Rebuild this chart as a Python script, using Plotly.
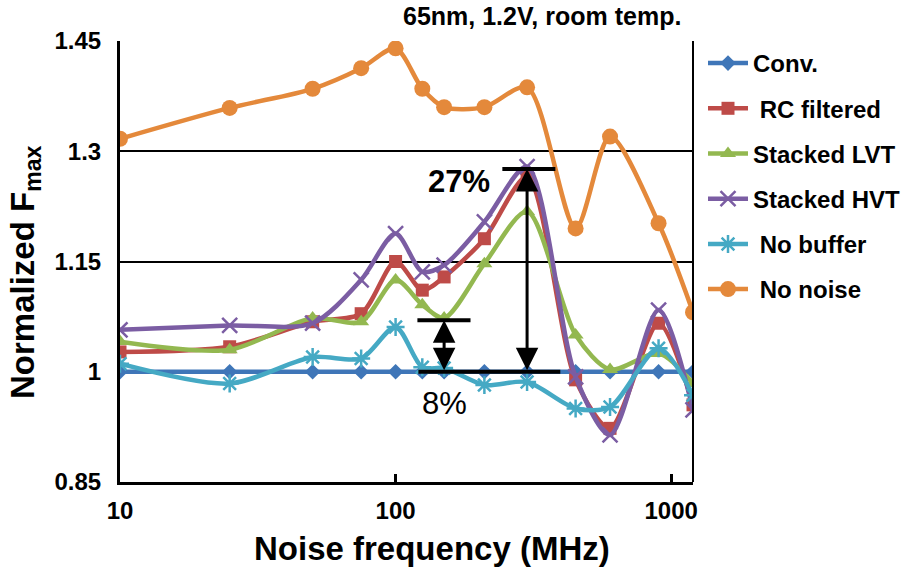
import numpy as np
import plotly.graph_objects as go

freq = [10, 25, 50, 75, 100, 125, 150, 210, 300, 450, 600, 900, 1200]
conv = [1.0] * 13
rc_filtered = [1.027, 1.034, 1.068, 1.079, 1.150, 1.111, 1.129, 1.181, 1.265, 0.989, 0.923, 1.066, 0.955]
stacked_lvt = [1.041, 1.030, 1.073, 1.068, 1.125, 1.091, 1.073, 1.147, 1.218, 1.050, 1.003, 1.025, 0.984]
stacked_hvt = [1.057, 1.063, 1.066, 1.125, 1.188, 1.136, 1.145, 1.204, 1.279, 0.993, 0.914, 1.084, 0.948]
no_buffer = [1.011, 0.984, 1.020, 1.018, 1.061, 1.006, 1.005, 0.982, 0.986, 0.950, 0.952, 1.032, 0.968]
no_noise = [1.317, 1.359, 1.385, 1.413, 1.440, 1.385, 1.360, 1.360, 1.387, 1.195, 1.320, 1.202, 1.081]

y_ticks = [0.85, 1.0, 1.15, 1.3, 1.45]
y_tick_text = ["0.85", "1", "1.15", "1.3", "1.45"]
x_ticks = [10, 100, 1000]
x_tick_text = ["10", "100", "1000"]

FONT = "Liberation Sans"

# plot area in pixels
L, R, T, B = 120, 693, 41, 482
PW, PH = R - L, B - T


def px(xp):
    return (xp - L) / PW


def py(yp):
    return (B - yp) / PH


series = [
    ("Conv.", conv, "#3F76B8", "diamond", 12, 0),
    (" RC filtered", rc_filtered, "#BE4B48", "square", 13, 0),
    ("Stacked LVT", stacked_lvt, "#93B850", "triangle-up", 14, 0),
    ("Stacked HVT", stacked_hvt, "#7B5DA3", "x-thin-open", 15, 2.5),
    (" No buffer", no_buffer, "#45A9C4", "asterisk-open", 15, 2.5),
    (" No noise", no_noise, "#E4893B", "circle", 16, 0),
]

fig = go.Figure()
for i, (name, vals, color, sym, size, lw) in enumerate(series):
    fig.add_trace(go.Scatter(
        x=freq, y=vals, name=name, mode="lines+markers",
        line=dict(color=color, width=4.5, shape="spline", smoothing=0.8),
        marker=dict(symbol=sym, size=size, color=color,
                    line=dict(color=color, width=lw)),
        legendgroup=f"g{i}",
    ))

# 27% and 8% double arrows
hx = np.log10(freq[8])
fig.add_annotation(x=hx, y=stacked_hvt[8] - 0.003, ax=hx, ay=conv[8],
                   xref="x", yref="y", axref="x", ayref="y", text="",
                   showarrow=True, arrowhead=2, arrowside="end+start",
                   arrowsize=1.5, arrowwidth=3, arrowcolor="black")
lx = np.log10(freq[6])
fig.add_annotation(x=lx, y=stacked_lvt[6] - 0.003, ax=lx, ay=conv[6],
                   xref="x", yref="y", axref="x", ayref="y", text="",
                   showarrow=True, arrowhead=2, arrowside="end+start",
                   arrowsize=1.5, arrowwidth=3, arrowcolor="black")

# caps
fig.add_shape(type="line", xref="x", yref="y", x0=244, x1=380,
              y0=stacked_hvt[8] - 0.003, y1=stacked_hvt[8] - 0.003,
              line=dict(color="black", width=4))
fig.add_shape(type="line", xref="x", yref="y", x0=121, x1=396,
              y0=conv[8], y1=conv[8], line=dict(color="black", width=4))
fig.add_shape(type="line", xref="x", yref="y", x0=120, x1=187,
              y0=stacked_lvt[6] - 0.003, y1=stacked_lvt[6] - 0.003,
              line=dict(color="black", width=4))
# right border
fig.add_shape(type="line", xref="paper", yref="paper", x0=1, x1=1, y0=0, y1=1,
              line=dict(color="black", width=2))


def label(text, xp, yp, size, bold=True, angle=0):
    fig.add_annotation(text=text, xref="paper", yref="paper", x=px(xp), y=py(yp),
                       xanchor="center", yanchor="middle", showarrow=False,
                       textangle=angle,
                       font=dict(family=FONT, size=size, color="black",
                                 weight="bold" if bold else "normal"))


label("27%", 459, 181, 31)
label("8%", 444, 403, 31, bold=False)
label("65nm, 1.2V, room temp.", 542, 16, 25)
label("Noise frequency (MHz)", 432, 548, 33)
label("Normalized F<sub>max</sub>", 25, 272, 33, angle=-90)

fig.update_layout(
    width=919, height=571,
    margin=dict(l=L, r=919 - R, t=T, b=571 - B),
    paper_bgcolor="white", plot_bgcolor="white",
    font=dict(family=FONT, color="black"),
    legend=dict(x=px(703), y=py(41), xanchor="left", yanchor="top",
                font=dict(family=FONT, size=24, color="black", weight="bold"),
                tracegroupgap=11, bgcolor="rgba(0,0,0,0)", itemwidth=40),
    showlegend=True,
)
fig.update_xaxes(
    type="log", range=[1, np.log10(1200)],
    tickvals=x_ticks, ticktext=x_tick_text,
    tickfont=dict(family=FONT, size=24, weight="bold"),
    ticks="inside", ticklen=8, tickwidth=3, tickcolor="black",
    showline=True, linecolor="black", linewidth=3, showgrid=False,
    zeroline=False, ticklabelstandoff=5,
)
fig.update_yaxes(
    range=[0.85, 1.45], tickvals=y_ticks, ticktext=y_tick_text,
    tickfont=dict(family=FONT, size=24, weight="bold"),
    showline=True, linecolor="black", linewidth=3,
    showgrid=True, gridcolor="black", gridwidth=2, zeroline=False,
    ticks="", ticklabelstandoff=11,
)

fig.write_html("out.html")
